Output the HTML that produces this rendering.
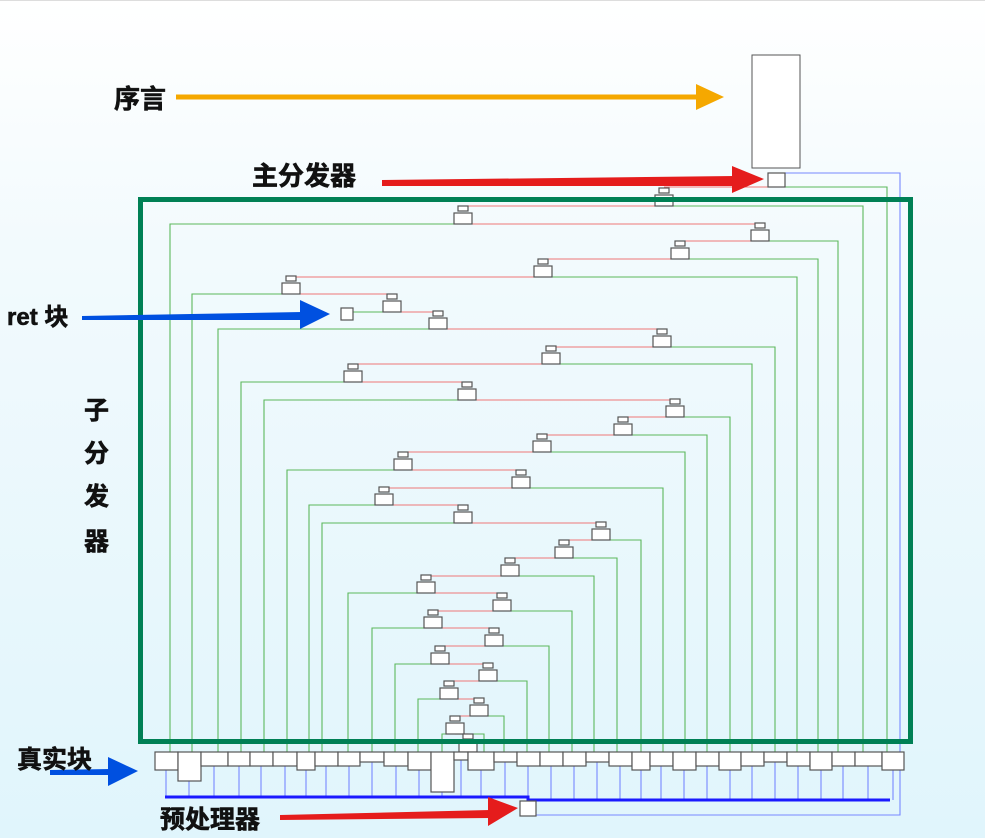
<!DOCTYPE html>
<html><head><meta charset="utf-8"><style>
html,body{margin:0;padding:0}
body{width:985px;height:838px;overflow:hidden;background:linear-gradient(#ffffff 0%,#f2fafd 30%,#e0f5fc 100%);font-family:"Liberation Sans","Noto Sans CJK SC",sans-serif}
svg{position:absolute;left:0;top:0}
.t{font-weight:bold;fill:#111;stroke:#111;stroke-width:0.6;font-family:"Liberation Sans","Noto Sans CJK SC",sans-serif}
</style></head><body>
<svg width="985" height="838" viewBox="0 0 985 838" xmlns="http://www.w3.org/2000/svg">
<line x1="0" y1="0.5" x2="985" y2="0.5" stroke="#ddd"/>
<rect x="752" y="55" width="48" height="113" fill="#fff" stroke="#555"/>
<g fill="none" stroke-width="1.1">
<path d="M664 187H776" stroke="#ee7777"/>
<path d="M776 187H887V752" stroke="#5cb85c"/>
<path d="M785 173H900V815H536" stroke="#7788ff"/>
<g stroke="#ee7777">
<path d="M664 206H463"/><path d="M463 224H760"/><path d="M760 241H680"/><path d="M680 259H543"/>
<path d="M543 277H291"/><path d="M291 294H392"/><path d="M392 312H438"/><path d="M438 329H662"/>
<path d="M662 347H551"/><path d="M551 364H353"/><path d="M353 382H467"/><path d="M467 400H675"/>
<path d="M675 417H623"/><path d="M623 435H542"/><path d="M542 452H403"/><path d="M403 470H521"/>
<path d="M521 488H384"/><path d="M384 505H463"/><path d="M463 523H601"/><path d="M601 540H564"/>
<path d="M564 558H510"/><path d="M510 576H426"/><path d="M426 593H502"/><path d="M502 611H433"/>
<path d="M433 628H494"/><path d="M494 646H440"/><path d="M440 664H488"/><path d="M488 681H449"/>
<path d="M449 699H479"/><path d="M479 716H455"/><path d="M455 734H468"/>
</g>
<g stroke="#5cb85c">
<path d="M664 206H863V752"/><path d="M463 224H170V752"/><path d="M760 241H838V752"/><path d="M680 259H818V752"/>
<path d="M543 277H797V752"/><path d="M291 294H192V752"/><path d="M392 312H347"/><path d="M438 329H218V752"/>
<path d="M662 347H775V752"/><path d="M551 364H752V752"/><path d="M353 382H241V752"/><path d="M467 400H264V752"/>
<path d="M675 417H730V752"/><path d="M623 435H707V752"/><path d="M542 452H685V752"/><path d="M403 470H287V752"/>
<path d="M521 488H663V752"/><path d="M384 505H309V752"/><path d="M463 523H322V752"/><path d="M601 540H641V752"/>
<path d="M564 558H617V752"/><path d="M510 576H594V752"/><path d="M426 593H348V752"/><path d="M502 611H572V752"/>
<path d="M433 628H372V752"/><path d="M494 646H549V752"/><path d="M440 664H395V752"/><path d="M488 681H527V752"/>
<path d="M449 699H418V752"/><path d="M479 716H504V752"/><path d="M455 734H442V752"/><path d="M468 734H484V752"/>
</g>
<g stroke="#7788ff">
<path d="M166 770V797M189 781V797M214 766V797M239 766V797M261 766V797M285 766V797M306 770V797M326 766V797M349 766V797M372 762V797M396 766V797M419 770V797M442 792V797M461 760V797M481 770V797M505 762V797"/>
<path d="M528 766V800M551 766V800M574 766V800M597 762V800M620 766V800M641 770V800M661 766V800M684 770V800M707 766V800M730 770V800M752 766V800M775 762V800M798 766V800M821 770V800M843 766V800M868 766V800M893 770V800"/>
</g>
<path d="M165 797H528V800H890" stroke="#1a1aff" stroke-width="3"/>
</g>
<g fill="#fff" stroke="#555" stroke-width="1.2">
<rect x="768" y="173" width="17" height="14"/>
<rect x="341" y="308" width="12" height="12"/>
<rect x="520" y="801" width="16" height="15"/>
</g>
<g fill="#fff" stroke="#555" stroke-width="1.2">
<g transform="translate(664,188)"><rect x="-5" y="0" width="10" height="5"/><rect x="-9" y="7" width="18" height="11"/></g>
<g transform="translate(463,206)"><rect x="-5" y="0" width="10" height="5"/><rect x="-9" y="7" width="18" height="11"/></g>
<g transform="translate(760,223)"><rect x="-5" y="0" width="10" height="5"/><rect x="-9" y="7" width="18" height="11"/></g>
<g transform="translate(680,241)"><rect x="-5" y="0" width="10" height="5"/><rect x="-9" y="7" width="18" height="11"/></g>
<g transform="translate(543,259)"><rect x="-5" y="0" width="10" height="5"/><rect x="-9" y="7" width="18" height="11"/></g>
<g transform="translate(291,276)"><rect x="-5" y="0" width="10" height="5"/><rect x="-9" y="7" width="18" height="11"/></g>
<g transform="translate(392,294)"><rect x="-5" y="0" width="10" height="5"/><rect x="-9" y="7" width="18" height="11"/></g>
<g transform="translate(438,311)"><rect x="-5" y="0" width="10" height="5"/><rect x="-9" y="7" width="18" height="11"/></g>
<g transform="translate(662,329)"><rect x="-5" y="0" width="10" height="5"/><rect x="-9" y="7" width="18" height="11"/></g>
<g transform="translate(551,346)"><rect x="-5" y="0" width="10" height="5"/><rect x="-9" y="7" width="18" height="11"/></g>
<g transform="translate(353,364)"><rect x="-5" y="0" width="10" height="5"/><rect x="-9" y="7" width="18" height="11"/></g>
<g transform="translate(467,382)"><rect x="-5" y="0" width="10" height="5"/><rect x="-9" y="7" width="18" height="11"/></g>
<g transform="translate(675,399)"><rect x="-5" y="0" width="10" height="5"/><rect x="-9" y="7" width="18" height="11"/></g>
<g transform="translate(623,417)"><rect x="-5" y="0" width="10" height="5"/><rect x="-9" y="7" width="18" height="11"/></g>
<g transform="translate(542,434)"><rect x="-5" y="0" width="10" height="5"/><rect x="-9" y="7" width="18" height="11"/></g>
<g transform="translate(403,452)"><rect x="-5" y="0" width="10" height="5"/><rect x="-9" y="7" width="18" height="11"/></g>
<g transform="translate(521,470)"><rect x="-5" y="0" width="10" height="5"/><rect x="-9" y="7" width="18" height="11"/></g>
<g transform="translate(384,487)"><rect x="-5" y="0" width="10" height="5"/><rect x="-9" y="7" width="18" height="11"/></g>
<g transform="translate(463,505)"><rect x="-5" y="0" width="10" height="5"/><rect x="-9" y="7" width="18" height="11"/></g>
<g transform="translate(601,522)"><rect x="-5" y="0" width="10" height="5"/><rect x="-9" y="7" width="18" height="11"/></g>
<g transform="translate(564,540)"><rect x="-5" y="0" width="10" height="5"/><rect x="-9" y="7" width="18" height="11"/></g>
<g transform="translate(510,558)"><rect x="-5" y="0" width="10" height="5"/><rect x="-9" y="7" width="18" height="11"/></g>
<g transform="translate(426,575)"><rect x="-5" y="0" width="10" height="5"/><rect x="-9" y="7" width="18" height="11"/></g>
<g transform="translate(502,593)"><rect x="-5" y="0" width="10" height="5"/><rect x="-9" y="7" width="18" height="11"/></g>
<g transform="translate(433,610)"><rect x="-5" y="0" width="10" height="5"/><rect x="-9" y="7" width="18" height="11"/></g>
<g transform="translate(494,628)"><rect x="-5" y="0" width="10" height="5"/><rect x="-9" y="7" width="18" height="11"/></g>
<g transform="translate(440,646)"><rect x="-5" y="0" width="10" height="5"/><rect x="-9" y="7" width="18" height="11"/></g>
<g transform="translate(488,663)"><rect x="-5" y="0" width="10" height="5"/><rect x="-9" y="7" width="18" height="11"/></g>
<g transform="translate(449,681)"><rect x="-5" y="0" width="10" height="5"/><rect x="-9" y="7" width="18" height="11"/></g>
<g transform="translate(479,698)"><rect x="-5" y="0" width="10" height="5"/><rect x="-9" y="7" width="18" height="11"/></g>
<g transform="translate(455,716)"><rect x="-5" y="0" width="10" height="5"/><rect x="-9" y="7" width="18" height="11"/></g>
<g transform="translate(468,734)"><rect x="-5" y="0" width="10" height="5"/><rect x="-9" y="7" width="18" height="11"/></g>
</g>
<g fill="#fff" stroke="#555" stroke-width="1.2">
<rect x="155" y="752" width="23" height="18"/><rect x="178" y="752" width="23" height="29"/><rect x="201" y="752" width="27" height="14"/>
<rect x="228" y="752" width="22" height="14"/><rect x="250" y="752" width="23" height="14"/><rect x="273" y="752" width="24" height="14"/>
<rect x="297" y="752" width="18" height="18"/><rect x="315" y="752" width="23" height="14"/><rect x="338" y="752" width="22" height="14"/>
<rect x="360" y="752" width="24" height="10"/><rect x="384" y="752" width="24" height="14"/><rect x="408" y="752" width="23" height="18"/>
<rect x="431" y="752" width="23" height="40"/><rect x="454" y="752" width="14" height="8"/><rect x="468" y="752" width="26" height="18"/>
<rect x="494" y="752" width="23" height="10"/><rect x="517" y="752" width="23" height="14"/><rect x="540" y="752" width="23" height="14"/>
<rect x="563" y="752" width="23" height="14"/><rect x="586" y="752" width="23" height="10"/><rect x="609" y="752" width="23" height="14"/>
<rect x="632" y="752" width="18" height="18"/><rect x="650" y="752" width="23" height="14"/><rect x="673" y="752" width="23" height="18"/>
<rect x="696" y="752" width="23" height="14"/><rect x="719" y="752" width="22" height="18"/><rect x="741" y="752" width="23" height="14"/>
<rect x="764" y="752" width="23" height="10"/><rect x="787" y="752" width="23" height="14"/><rect x="810" y="752" width="22" height="18"/>
<rect x="832" y="752" width="23" height="14"/><rect x="855" y="752" width="27" height="14"/><rect x="882" y="752" width="22" height="18"/>
</g>
<rect x="140.5" y="199.5" width="770" height="542" fill="none" stroke="#008055" stroke-width="5"/>
<g>
<line x1="176" y1="97" x2="698" y2="97" stroke="#f5a800" stroke-width="5"/>
<polygon points="696,84 724,97 696,110" fill="#f5a800"/>
<polygon points="382,180 735,176 735,186 382,186" fill="#e51c1c"/>
<polygon points="732,166 764,179 732,193" fill="#e51c1c"/>
<polygon points="82,316 302,312 302,320 82,320" fill="#0050e0"/>
<polygon points="300,300 330,314 300,329" fill="#0050e0"/>
<polygon points="50,770 110,769 110,775 50,775" fill="#0050e0"/>
<polygon points="108,757 138,771 108,786" fill="#0050e0"/>
<polygon points="280,815 490,810 490,818 280,820" fill="#e51c1c"/>
<polygon points="488,797 518,808 488,826" fill="#e51c1c"/>
</g>
<text class="t" x="114" y="108" font-size="26">序言</text>
<text class="t" x="252" y="185" font-size="26">主分发器</text>
<text class="t" x="7" y="325" font-size="24">ret 块</text>
<text class="t" x="84" y="419" font-size="25">子</text>
<text class="t" x="84" y="462" font-size="25">分</text>
<text class="t" x="84" y="505" font-size="25">发</text>
<text class="t" x="84" y="550" font-size="25">器</text>
<text class="t" x="17" y="768" font-size="25">真实块</text>
<text class="t" x="160" y="828" font-size="25">预处理器</text>
</svg>
</body></html>
